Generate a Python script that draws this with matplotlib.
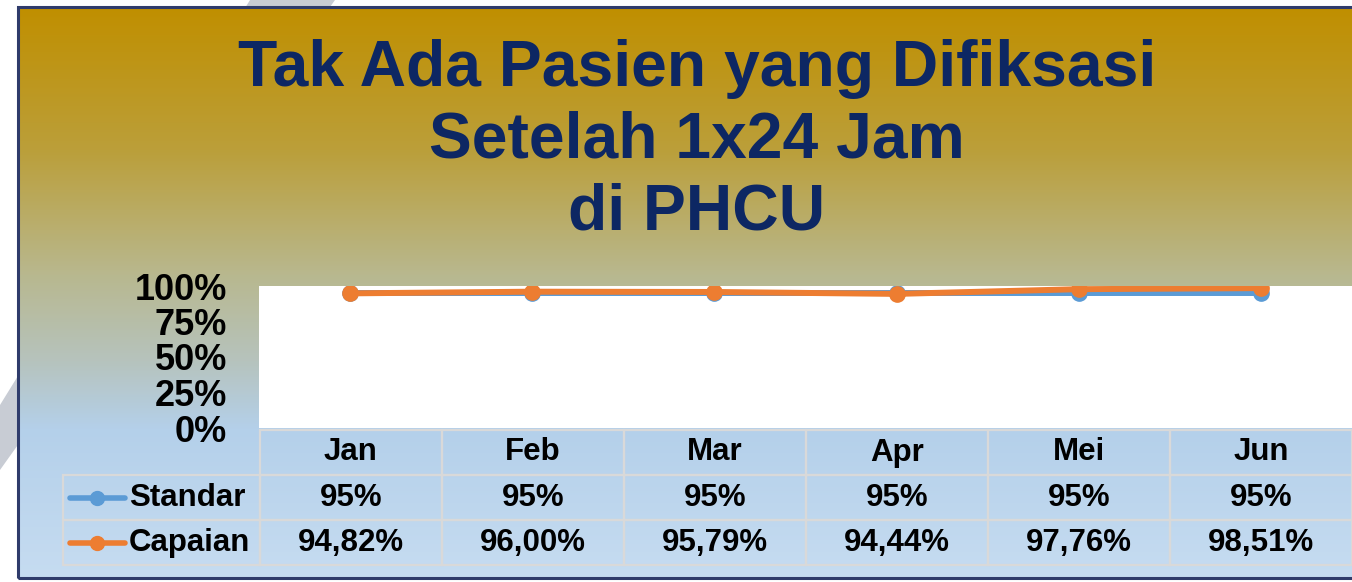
import numpy as np
import matplotlib.pyplot as plt
from matplotlib.colors import LinearSegmentedColormap
from matplotlib.patches import Polygon, Rectangle
from matplotlib.lines import Line2D

# data
months = ['Jan', 'Feb', 'Mar', 'Apr', 'Mei', 'Jun']
standar = [95, 95, 95, 95, 95, 95]
capaian = [94.82, 96.00, 95.79, 94.44, 97.76, 98.51]
series_names = ['Standar', 'Capaian']
yticks = [0, 25, 50, 75, 100]

blue = '#5b9bd5'
orange = '#ed7d31'
navy = '#0d2763'

plt.rcParams['font.family'] = ['Liberation Sans', 'DejaVu Sans']
plt.rcParams['font.weight'] = 'bold'

W, H = 1352, 582
fig = plt.figure(figsize=(W / 100, H / 100), dpi=100)
fig.patch.set_facecolor('white')


def fx(px):
    return px / W


def fy(py):
    return 1 - py / H


# grey diagonal stripe behind the frame
stripe = Polygon([(fx(250), fy(0)), (fx(335), fy(0)), (fx(0), fy(470)), (fx(0), fy(405))],
                 closed=True, transform=fig.transFigure, facecolor='#c8ccd4',
                 edgecolor='none', zorder=-1)
fig.patches.append(stripe)

# gradient background inside the frame
left, top, bottom = 18, 7, 578
bg = fig.add_axes([fx(left), fy(bottom), 1 - fx(left), fy(top) - fy(bottom)], zorder=1)
stops = [(0.0, '#c08f00'), (0.25, '#bb9f3a'), (0.47, '#b8b88f'),
         (0.62, '#b6c3bd'), (0.74, '#b4d0ea'), (1.0, '#c6dcf1')]
cmap = LinearSegmentedColormap.from_list('bg', stops)
grad = np.linspace(0, 1, 256).reshape(-1, 1)
bg.imshow(grad, aspect='auto', cmap=cmap, extent=[0, 1, 0, 1], origin='upper')
bg.set_axis_off()

frame = Rectangle((fx(left), fy(bottom)), 1.2, fy(top) - fy(bottom), transform=fig.transFigure,
                  facecolor='none', edgecolor='#2f3b6b', linewidth=2.2, zorder=5)
fig.patches.append(frame)

# title
fig.text(fx(697), fy(141), 'Tak Ada Pasien yang Difiksasi\nSetelah 1x24 Jam\ndi PHCU',
         ha='center', va='center', fontsize=46.3, fontweight='bold', color=navy,
         linespacing=1.25, zorder=3)

# plot area
ax_l, ax_r, ax_t, ax_b = 259, 1352, 286, 428
ax = fig.add_axes([fx(ax_l), fy(ax_b), fx(ax_r) - fx(ax_l), fy(ax_t) - fy(ax_b)], zorder=2)
ax.set_facecolor('white')
x = np.arange(len(months))
ax.plot(x, [v / 100 for v in standar], color=blue, lw=4.3, marker='o', ms=11,
        solid_capstyle='round', zorder=3)
ax.plot(x, [v / 100 for v in capaian], color=orange, lw=4.3, marker='o', ms=11,
        solid_capstyle='round', zorder=4)
ax.set_xlim(-0.5, len(months) - 0.5)
ax.set_ylim(0, 1)
ax.set_xticks([])
ax.set_yticks([t / 100 for t in yticks])
ax.set_yticklabels([f'{t}%' for t in yticks])
ax.tick_params(axis='y', length=0, pad=23, labelsize=26)
for lab in ax.get_yticklabels():
    lab.set_fontweight('bold')
for s in ax.spines.values():
    s.set_visible(False)

# data table under the axis
tbl_l, tbl_t, tbl_b = 63, 430, 565
ax_h = ax_b - ax_t
ax_w = ax_r - ax_l
bx0 = (tbl_l - ax_l) / ax_w
by0 = (ax_b - tbl_b) / ax_h
bw = (ax_r - tbl_l) / ax_w
bh = (tbl_b - tbl_t) / ax_h

cell_text = [[series_names[0]] + [f'{v:d}%' for v in standar],
             [series_names[1]] + [f'{v:.2f}%'.replace('.', ',') for v in capaian]]
tbl = ax.table(cellText=cell_text, colLabels=[''] + months, cellLoc='center',
               bbox=[bx0, by0, bw, bh])
tbl.auto_set_font_size(False)
label_w = 197
col_w = (ax_r - label_w - tbl_l) / len(months)
for (r, c), cell in tbl.get_celld().items():
    cell.set_facecolor('none')
    cell.set_edgecolor('#d9d9d9')
    cell.set_linewidth(1.6)
    cell.set_width(label_w if c == 0 else col_w)
    cell.get_text().set_fontsize(22.5)
    cell.get_text().set_fontweight('bold')
    cell.get_text().set_color('black')
    if r == 0 and c == 0:
        cell.set_visible(False)
    elif c == 0:
        cell.get_text().set_ha('left')
        cell._loc = 'left'
        cell.PAD = 0.335

# legend keys in the row labels
row_h = bh / 3
for i, col in enumerate([blue, orange]):
    yk = by0 + bh - row_h * (i + 1.5)
    ax.add_line(Line2D([(70 - ax_l) / ax_w, (125 - ax_l) / ax_w], [yk, yk],
                       transform=ax.transAxes, color=col, lw=4, clip_on=False,
                       solid_capstyle='round'))
    ax.add_line(Line2D([(97 - ax_l) / ax_w], [yk], transform=ax.transAxes,
                       color=col, marker='o', ms=10, clip_on=False))

fig.savefig('out.png', dpi=100)
